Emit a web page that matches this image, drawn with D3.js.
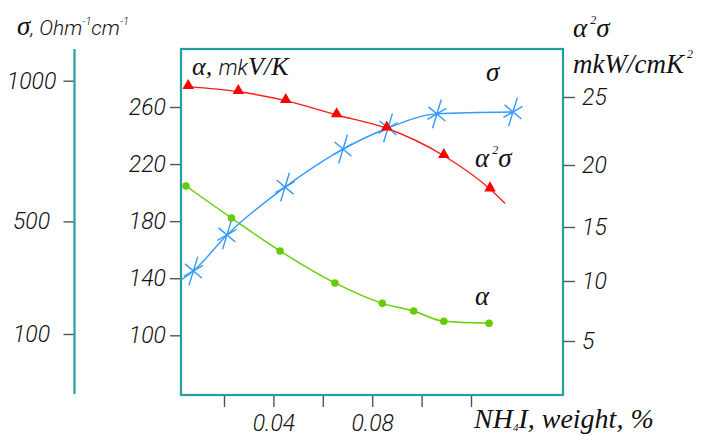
<!DOCTYPE html>
<html>
<head>
<meta charset="utf-8">
<title>NH4I - sigma, alpha, power factor</title>
<script src="https://cdn.jsdelivr.net/npm/d3@7"></script>
<style>
	body { margin: 0; background: #fff; }
	.tick text { font-family: Roboto, 'Liberation Sans', sans-serif; font-style: italic; font-weight: 300; font-size: 23px; fill: #111; }
	.tick line { stroke: #555; stroke-width: 1.4; }
	.serif { font-family: 'Liberation Serif', 'Times New Roman', serif; font-style: italic; fill: #111; }
	.sans { font-family: Roboto, 'Liberation Sans', sans-serif; font-style: italic; font-weight: 300; fill: #111; }
</style>
</head>
<body>
<svg width="710" height="436"></svg>
<script>

// NH4I content, weight %
var xTicks = [0.02, 0.04, 0.06, 0.08, 0.10, 0.12];
var xTickLabels = ['', '0.04', '', '0.08', '', ''];

var sigmaTicks = [100, 500, 1000];
var alphaTicks = [100, 140, 180, 220, 260];
var powerTicks = [5, 10, 15, 20, 25];

// alpha, mkV/K (green circles)
var alphaX = [0.0046, 0.023, 0.0427, 0.0649, 0.0841, 0.0968, 0.109, 0.1273];
var alphaY = [204.6, 182.2, 159.1, 136.7, 122.4, 117, 109.8, 108.4];

// sigma, Ohm^-1 cm^-1 (blue stars)
var sigmaX = [0.0076, 0.0212, 0.0447, 0.0682, 0.0864, 0.1062, 0.137];
var sigmaY = [324, 452, 622, 757, 832, 882, 889];
var sigmaLineStart = [0.0026, 292];

// alpha^2 sigma, mkW/cmK^2 (red triangles)
var powerX = [0.0055, 0.0258, 0.045, 0.0656, 0.0859, 0.109, 0.1277];
var powerY = [25.76, 25.39, 24.73, 23.68, 22.7, 20.68, 18.06];
var powerLineEnd = [0.1338, 16.9];

var teal = '#22a0a0';
var frame = {left: 181, top: 49, right: 563, bottom: 395};

var svg = d3.select('svg');

var x = d3.scaleLinear().domain([0, 0.16]).range([174.6, 569.8]);
var ySigma = d3.scaleLinear().domain([100, 1000]).range([334, 80.7]);
var yAlpha = d3.scaleLinear().domain([100, 260]).range([335.3, 107]);
// hand-drawn right axis, ticks are not evenly spaced
var yPower = d3.scaleLinear().domain([5, 10, 15, 20, 25]).range([341, 281, 227, 165, 97]);

// axes
var gx = svg.append('g')
	.attr('transform', 'translate(0,' + frame.bottom + ')')
	.call(d3.axisBottom(x).tickValues(xTicks).tickSize(12).tickPadding(8)
		.tickFormat(function(d, i) { return xTickLabels[i]; }));

var gAlpha = svg.append('g')
	.attr('transform', 'translate(' + frame.left + ',0)')
	.call(d3.axisLeft(yAlpha).tickValues(alphaTicks).tickSize(11).tickPadding(4));

var gPower = svg.append('g')
	.attr('transform', 'translate(' + frame.right + ',0)')
	.call(d3.axisRight(yPower).tickValues(powerTicks).tickSize(12).tickPadding(7));

var gSigma = svg.append('g')
	.attr('transform', 'translate(74.5,0)')
	.call(d3.axisLeft(ySigma).tickValues(sigmaTicks).tickSize(11).tickPadding(6)
		.tickFormat(d3.format('d')));
gSigma.selectAll('.tick text').attr('text-anchor', 'middle').attr('x', -43);

svg.selectAll('.domain').remove();

// sigma axis line and plot frame
svg.append('line')
	.attr('x1', 74.5).attr('x2', 74.5)
	.attr('y1', frame.top).attr('y2', frame.bottom - 1)
	.style('stroke', teal).style('stroke-width', 2.2);

svg.append('rect')
	.attr('x', frame.left).attr('y', frame.top)
	.attr('width', frame.right - frame.left)
	.attr('height', frame.bottom - frame.top)
	.style('fill', 'none').style('stroke', teal).style('stroke-width', 2.2);

// curves
var alphaData = alphaX.map(function(d, i) { return [d, alphaY[i]]; });
var sigmaData = sigmaX.map(function(d, i) { return [d, sigmaY[i]]; });
var powerData = powerX.map(function(d, i) { return [d, powerY[i]]; });

function curve(yScale) {
	return d3.line()
		.x(function(d) { return x(d[0]); })
		.y(function(d) { return yScale(d[1]); })
		.curve(d3.curveMonotoneX);
}

svg.append('path')
	.attr('d', curve(yAlpha)(alphaData))
	.style('fill', 'none').style('stroke', '#66cc00').style('stroke-width', 1.4);

svg.append('path')
	.attr('d', curve(ySigma)([sigmaLineStart].concat(sigmaData)))
	.style('fill', 'none').style('stroke', '#3399ff').style('stroke-width', 1.4);

svg.append('path')
	.attr('d', curve(yPower)(powerData.concat([powerLineEnd])))
	.style('fill', 'none').style('stroke', '#ff1a1a').style('stroke-width', 1.4);

// markers
svg.selectAll('circle.alpha')
	.data(alphaData)
	.enter()
	.append('circle')
	.attr('class', 'alpha')
	.attr('cx', function(d) { return x(d[0]); })
	.attr('cy', function(d) { return yAlpha(d[1]); })
	.attr('r', 3.8)
	.style('fill', '#66cc00');

var star = (function() {
	var arms = [[73, 15], [-40, 11], [30, 11]];
	return arms.map(function(a) {
		var r = a[0] * Math.PI / 180, dx = Math.cos(r) * a[1], dy = -Math.sin(r) * a[1];
		return 'M' + (-dx) + ',' + (-dy) + 'L' + dx + ',' + dy;
	}).join('');
})();

svg.selectAll('path.sigma')
	.data(sigmaData)
	.enter()
	.append('path')
	.attr('class', 'sigma')
	.attr('d', star)
	.attr('transform', function(d) { return 'translate(' + x(d[0]) + ',' + ySigma(d[1]) + ')'; })
	.style('stroke', '#3399ff').style('stroke-width', 1.4).style('fill', 'none');

svg.selectAll('path.power')
	.data(powerData)
	.enter()
	.append('path')
	.attr('class', 'power')
	.attr('d', d3.symbol(d3.symbolTriangle, 58))
	.attr('transform', function(d) { return 'translate(' + x(d[0]) + ',' + (yPower(d[1]) - 1) + ')'; })
	.style('fill', '#ff0000');

// titles
var t;
t = svg.append('text').attr('x', 17).attr('y', 35);
t.append('tspan').attr('class', 'serif').style('font-size', '27px').text('σ');
t.append('tspan').attr('class', 'sans').style('font-size', '21px').text(', Ohm');
t.append('tspan').attr('class', 'sans').style('font-size', '11px').attr('dy', -10).text('-1');
t.append('tspan').attr('class', 'sans').style('font-size', '21px').attr('dy', 10).text('cm');
t.append('tspan').attr('class', 'sans').style('font-size', '11px').attr('dy', -10).text('-1');

t = svg.append('text').attr('x', 192).attr('y', 75);
t.append('tspan').attr('class', 'serif').style('font-size', '26px').text('α, ');
t.append('tspan').attr('class', 'sans').style('font-size', '22px').text('mk');
t.append('tspan').attr('class', 'serif').style('font-size', '26px').text('V/K');

t = svg.append('text').attr('x', 573).attr('y', 37);
t.append('tspan').attr('class', 'serif').style('font-size', '27px').text('α');
t.append('tspan').attr('class', 'serif').style('font-size', '12px').attr('dy', -13).text(' 2');
t.append('tspan').attr('class', 'serif').style('font-size', '27px').attr('dy', 13).text('σ');

t = svg.append('text').attr('x', 573).attr('y', 73);
t.append('tspan').attr('class', 'serif').style('font-size', '27px').text('mkW/cmK');
t.append('tspan').attr('class', 'serif').style('font-size', '12px').attr('dy', -15).text(' 2');

t = svg.append('text').attr('x', 474).attr('y', 428);
t.append('tspan').attr('class', 'serif').style('font-size', '28px').text('NH');
t.append('tspan').attr('class', 'serif').style('font-size', '11px').attr('dy', 3).text('4');
t.append('tspan').attr('class', 'serif').style('font-size', '28px').attr('dy', -3).text('I, weight, %');

// series labels
svg.append('text').attr('class', 'serif').attr('x', 486).attr('y', 81)
	.style('font-size', '27px').text('σ');

t = svg.append('text').attr('x', 475).attr('y', 167);
t.append('tspan').attr('class', 'serif').style('font-size', '27px').text('α');
t.append('tspan').attr('class', 'serif').style('font-size', '12px').attr('dy', -13).text(' 2');
t.append('tspan').attr('class', 'serif').style('font-size', '27px').attr('dy', 13).text('σ');

svg.append('text').attr('class', 'serif').attr('x', 475).attr('y', 305)
	.style('font-size', '27px').text('α');

</script>
</body>
</html>
